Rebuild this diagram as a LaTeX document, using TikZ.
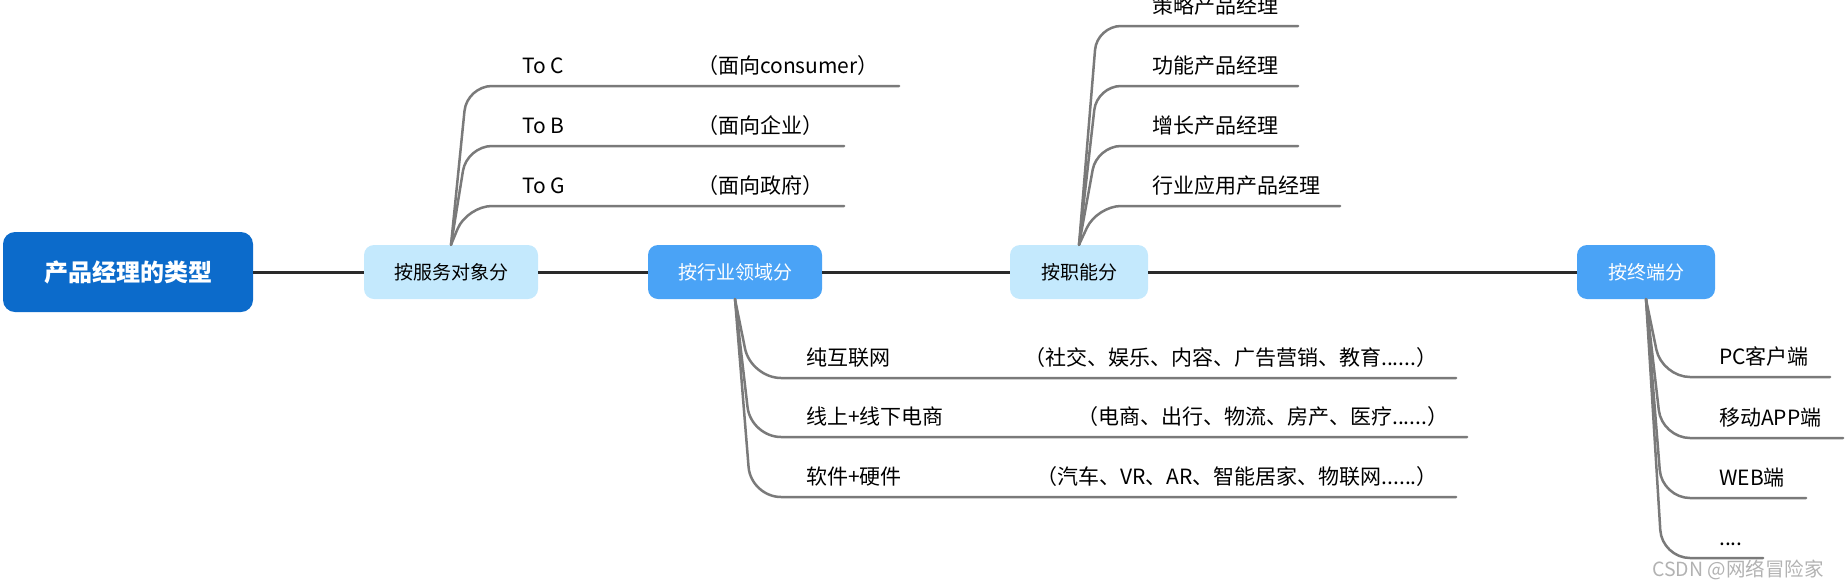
\documentclass[tikz,border=0pt]{standalone}
\usepackage{fontspec}
\setmainfont{Noto Sans CJK SC}
\definecolor{rootblue}{HTML}{0C6BCB}
\definecolor{midblue}{HTML}{4AA3F6}
\definecolor{paleblue}{HTML}{C4E9FD}
\definecolor{branchgray}{HTML}{7A7A7A}
\definecolor{axisgray}{HTML}{2A2A2A}

\begin{document}
\begin{tikzpicture}[
		x=1pt,y=-1pt,
		box/.style={rounded corners=10pt,minimum height=54pt,inner sep=0pt,font=\fontsize{19}{19}\selectfont},
		pale/.style={box,fill=paleblue,text=black},
		mid/.style={box,fill=midblue,text=white},
		leaf/.style={anchor=base west,inner sep=0pt,font=\fontsize{21}{21}\selectfont},
		axis/.style={line width=3pt,draw=axisgray},
		branch/.style={line width=2.5pt,draw=branchgray,line cap=round}]
		\useasboundingbox (0,0) rectangle (1846,587);
		\node [fill=rootblue,text=white,rounded corners=12pt,minimum width=250pt,minimum height=80pt,font=\fontsize{24}{24}\selectfont\bfseries](r) at (128,272){产品经理的类型};
		\node [pale,minimum width=174pt](a) at (451,272){按服务对象分};
		\node [mid,minimum width=174pt](b) at (735,272){按行业领域分};
		\node [pale,minimum width=138pt](c) at (1079,272){按职能分};
		\node [mid,minimum width=138pt](d) at (1646,272){按终端分};
		\draw [axis] (r.east) -- (a.west);
		\draw [axis] (a.east) -- (b.west);
		\draw [axis] (b.east) -- (c.west);
		\draw [axis] (c.east) -- (d.west);
		\coordinate (a1) at (899,86);
		\coordinate (a2) at (844,146);
		\coordinate (a3) at (844,206);
		\draw [branch,rounded corners=25pt] (a.north) -- ([xshift=16pt]a.north |- a1) -- (a1);
		\draw [branch,rounded corners=25pt] (a.north) -- ([xshift=16pt]a.north |- a2) -- (a2);
		\draw [branch,rounded corners=25pt] (a.north) -- ([xshift=16pt]a.north |- a3) -- (a3);
		\node [leaf](ta1) at (522,73){To C};
		\node [leaf](tp1) at (697,73){（面向consumer）};
		\node [leaf](ta2) at (522,133){To B};
		\node [leaf](tp2) at (697,133){（面向企业）};
		\node [leaf](ta3) at (522,193){To G};
		\node [leaf](tp3) at (697,193){（面向政府）};
		\coordinate (b1) at (1456,378);
		\coordinate (b2) at (1467,437);
		\coordinate (b3) at (1456,497);
		\draw [branch,rounded corners=30pt] (b.south) -- ([xshift=16pt]b.south |- b1) -- (b1);
		\draw [branch,rounded corners=30pt] (b.south) -- ([xshift=16pt]b.south |- b2) -- (b2);
		\draw [branch,rounded corners=30pt] (b.south) -- ([xshift=16pt]b.south |- b3) -- (b3);
		\node [leaf](tb1) at (806,365){纯互联网};
		\node [leaf](pb1) at (1024,365){（社交、娱乐、内容、广告营销、教育......）};
		\node [leaf](tb2) at (806,424){线上+线下电商};
		\node [leaf](pb2) at (1077,424){（电商、出行、物流、房产、医疗......）};
		\node [leaf](tb3) at (806,484){软件+硬件};
		\node [leaf](pb3) at (1036,484){（汽车、VR、AR、智能居家、物联网......）};
		\coordinate (c1) at (1298,26);
		\coordinate (c2) at (1298,86);
		\coordinate (c3) at (1298,146);
		\coordinate (c4) at (1340,206);
		\draw [branch,rounded corners=24pt] (c.north) -- ([xshift=18pt]c.north |- c1) -- (c1);
		\draw [branch,rounded corners=24pt] (c.north) -- ([xshift=18pt]c.north |- c2) -- (c2);
		\draw [branch,rounded corners=24pt] (c.north) -- ([xshift=18pt]c.north |- c3) -- (c3);
		\draw [branch,rounded corners=24pt] (c.north) -- ([xshift=18pt]c.north |- c4) -- (c4);
		\node [leaf](tc1) at (1152,13){策略产品经理};
		\node [leaf](tc2) at (1152,73){功能产品经理};
		\node [leaf](tc3) at (1152,133){增长产品经理};
		\node [leaf](tc4) at (1152,193){行业应用产品经理};
		\coordinate (d1) at (1830,377);
		\coordinate (d2) at (1843,438);
		\coordinate (d3) at (1806,498);
		\coordinate (d4) at (1763,558);
		\draw [branch,rounded corners=28pt] (d.south) -- ([xshift=16pt]d.south |- d1) -- (d1);
		\draw [branch,rounded corners=28pt] (d.south) -- ([xshift=16pt]d.south |- d2) -- (d2);
		\draw [branch,rounded corners=28pt] (d.south) -- ([xshift=16pt]d.south |- d3) -- (d3);
		\draw [branch,rounded corners=28pt] (d.south) -- ([xshift=16pt]d.south |- d4) -- (d4);
		\node [leaf](td1) at (1719,364){PC客户端};
		\node [leaf](td2) at (1719,425){移动APP端};
		\node [leaf](td3) at (1719,485){WEB端};
		\node [leaf](td4) at (1719,545){....};
		\node [anchor=base west,inner sep=0pt,text=gray!60,font=\fontsize{19.5}{19.5}\selectfont](w) at (1652,576){CSDN @网络冒险家};
		\end{tikzpicture}
\end{document}
